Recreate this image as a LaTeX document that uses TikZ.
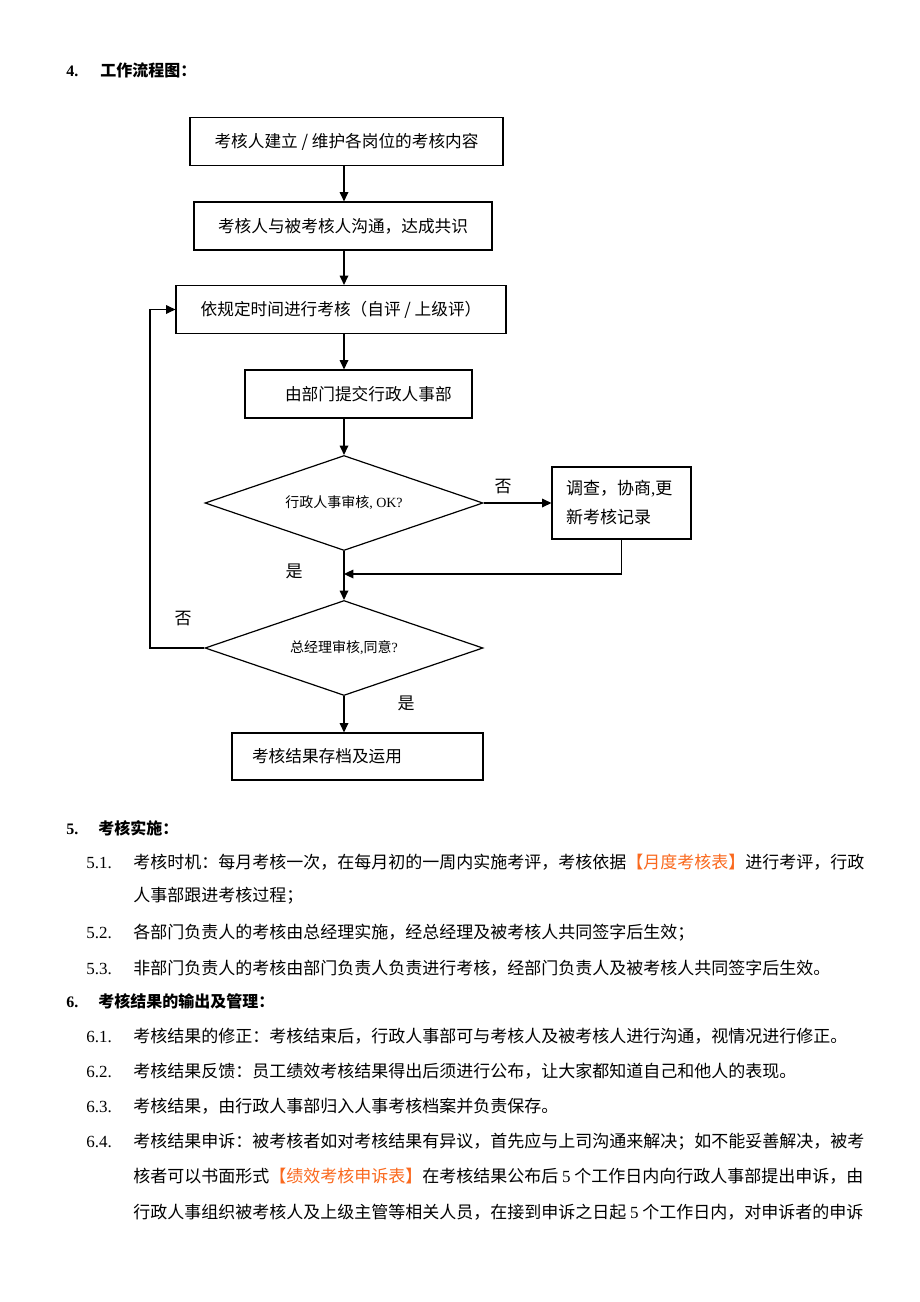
\documentclass[tikz,border=0pt]{standalone}
\usepackage{fontspec}
\setmainfont{Liberation Serif}
\newfontfamily\cjk{Noto Sans CJK SC}
\usetikzlibrary{shapes.geometric,arrows.meta}
\definecolor{formorange}{RGB}{250,105,30}

\begin{document}
\begin{tikzpicture}[x=0.75pt,y=-0.75pt,
  box/.style={draw,line width=0.9pt,minimum height=36pt,font=\cjk\fontsize{12.5}{15}\selectfont},
  check/.style={draw,diamond,aspect=2.93,line width=0.9pt,minimum width=208.5pt,minimum height=71.25pt,inner sep=0pt,font=\cjk\fontsize{10.5}{12}\selectfont},
  flow/.style={line width=0.9pt,-{Triangle[length=7pt,width=6.5pt]}},
  lbl/.style={font=\cjk\fontsize{12.75}{15}\selectfont},
  head/.style={anchor=base west,inner sep=0pt,font=\cjk\bfseries\fontsize{12}{14}\selectfont},
  num/.style={anchor=base west,inner sep=0pt,font=\fontsize{12.75}{15}\selectfont},
  para/.style={anchor=base west,inner sep=0pt,font=\cjk\fontsize{12.75}{15}\selectfont}]
\fill[white] (0,0) rectangle (920,1302);
\useasboundingbox (0,0) rectangle (920,1302);

% headings
\node[head] (h4n) at (66,77) {\rmfamily 4.};
\node[head] (h4) at (100,77) {工作流程图：};

% flow chart
\node[box,minimum width=234.75pt] (b1) at (346.5,141.5) {考核人建立 / 维护各岗位的考核内容};
\node[box,minimum width=223.5pt] (b2) at (343,226) {考核人与被考核人沟通，达成共识};
\node[box,minimum width=247.5pt] (b3) at (341,309.5) {依规定时间进行考核（自评 / 上级评）};
\node[box,inner xsep=0pt,text width=170.25pt,align=left] (b4) at (358.5,394) {\hspace*{30pt}由部门提交行政人事部};
\node[check] (d1) at (344,503) {行政人事审核{\rmfamily, OK?}};
\node[box,minimum height=54pt,inner xsep=10.5pt,text width=83.25pt,align=left,font=\cjk\fontsize{12.75}{21.75}\selectfont] (br) at (621.5,503) {调查，协商{\rmfamily ,}更\\新考核记录};
\node[check] (d2) at (344,648) {总经理审核{\rmfamily ,}同意{\rmfamily ?}};
\node[box,minimum height=35.25pt,inner xsep=0pt,text width=188.25pt,align=left] (b5) at (357.5,756.5) {\hspace*{15pt}考核结果存档及运用};

\coordinate (join) at (344,574);
\coordinate (loop) at (150,648);

\draw[flow] (b1.south -| d1.north) -- (b2.north -| d1.north);
\draw[flow] (b2.south -| d1.north) -- (b3.north -| d1.north);
\draw[flow] (b3.south -| d1.north) -- (b4.north -| d1.north);
\draw[flow] (b4.south -| d1.north) -- (d1.north);
\draw[flow] (d1.east) -- (br.west);
\draw[flow] (br.south) |- (join);
\draw[flow] (d1.south) -- (d2.north);
\draw[flow] (d2.west) -- (loop) |- (b3.west);
\draw[flow] (d2.south) -- (b5.north -| d2.south);

\node[lbl] (no1) at (503,487) {否};
\node[lbl] (yes1) at (294,571) {是};
\node[lbl] (no2) at (183,619) {否};
\node[lbl] (yes2) at (406,703) {是};

% section 5
\node[head] (h5n) at (66,834) {\rmfamily 5.};
\node[head] (h5) at (98,834) {考核实施：};
\node[num] (n51) at (86,868) {5.1.};
\node[para] (t51) at (133,868) {考核时机：每月考核一次，在每月初的一周内实施考评，考核依据\textcolor{formorange}{【月度考核表】}进行考评，行政};
\node[para] (t51b) at (133,901) {人事部跟进考核过程；};
\node[num] (n52) at (86,938) {5.2.};
\node[para] (t52) at (133,938) {各部门负责人的考核由总经理实施，经总经理及被考核人共同签字后生效；};
\node[num] (n53) at (86,974) {5.3.};
\node[para] (t53) at (133,974) {非部门负责人的考核由部门负责人负责进行考核，经部门负责人及被考核人共同签字后生效。};

% section 6
\node[head] (h6n) at (66,1007) {\rmfamily 6.};
\node[head] (h6) at (98,1007) {考核结果的输出及管理：};
\node[num] (n61) at (86,1042) {6.1.};
\node[para] (t61) at (133,1042) {考核结果的修正：考核结束后，行政人事部可与考核人及被考核人进行沟通，视情况进行修正。};
\node[num] (n62) at (86,1077) {6.2.};
\node[para] (t62) at (133,1077) {考核结果反馈：员工绩效考核结果得出后须进行公布，让大家都知道自己和他人的表现。};
\node[num] (n63) at (86,1112) {6.3.};
\node[para] (t63) at (133,1112) {考核结果，由行政人事部归入人事考核档案并负责保存。};
\node[num] (n64) at (86,1147) {6.4.};
\node[para] (t64) at (133,1147) {考核结果申诉：被考核者如对考核结果有异议，首先应与上司沟通来解决；如不能妥善解决，被考};
\node[para] (t64b) at (133,1182) {核者可以书面形式\textcolor{formorange}{【绩效考核申诉表】}在考核结果公布后 {\rmfamily 5} 个工作日内向行政人事部提出申诉，由};
\node[para] (t64c) at (133,1218) {行政人事组织被考核人及上级主管等相关人员，在接到申诉之日起 {\rmfamily 5} 个工作日内，对申诉者的申诉};
\end{tikzpicture}
\end{document}
